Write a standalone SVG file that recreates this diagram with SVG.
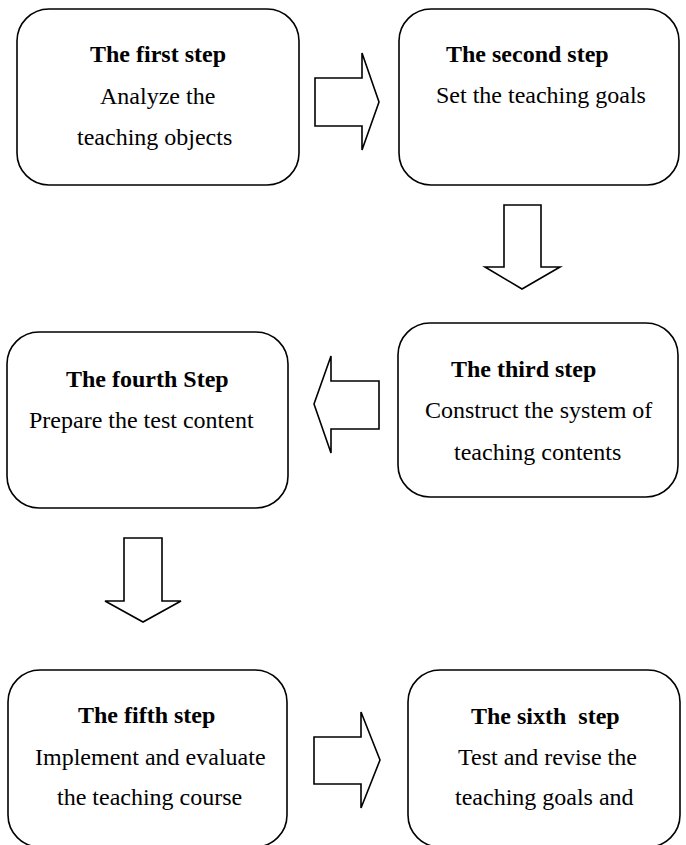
<svg xmlns="http://www.w3.org/2000/svg" width="686" height="845" viewBox="0 0 686 845">
<style>
.box{fill:#fff;stroke:#000;stroke-width:1.6}
.arr{fill:#fff;stroke:#000;stroke-width:1.6;stroke-linejoin:miter}
text{font-family:"Liberation Serif","Times New Roman",serif;font-size:24px;fill:#000;white-space:pre}
.t{font-weight:bold}
</style>
<rect width="686" height="845" fill="#fff"/>
<g id="connectors">
<polygon class="arr" points="315,78 362,78 362,53 379,102 362,150 362,126 315,126"/>
<polygon class="arr" points="504,205 541,205 541,267 560,267 522,289 485,267 504,267"/>
<polygon class="arr" points="379,381 331,381 331,356 314,404 331,453 331,429 379,429"/>
<polygon class="arr" points="124,538 162,538 162,601 181,601 143,622 105,601 124,601"/>
<polygon class="arr" points="314,737 361,737 361,712 380,760 361,808 361,784 314,784"/>
</g>
<g id="step1">
<rect class="box" x="17" y="9" width="282" height="176" rx="32"/>
<text class="t" x="90" y="62">The first step</text>
<text x="100" y="104">Analyze the</text>
<text x="77" y="145">teaching objects</text>
</g>
<g id="step2">
<rect class="box" x="399" y="9" width="280" height="176" rx="32"/>
<text class="t" x="446" y="62">The second step</text>
<text x="436" y="103">Set the teaching goals</text>
</g>
<g id="step3">
<rect class="box" x="398" y="323" width="280" height="174" rx="32"/>
<text class="t" x="451" y="377">The third step</text>
<text x="425" y="418">Construct the system of</text>
<text x="454" y="460">teaching contents</text>
</g>
<g id="step4">
<rect class="box" x="7" y="332" width="281" height="176" rx="32"/>
<text class="t" x="66" y="387">The fourth Step</text>
<text x="29" y="428">Prepare the test content</text>
</g>
<g id="step5">
<rect class="box" x="8" y="670" width="279" height="177" rx="32"/>
<text class="t" x="78" y="723">The fifth step</text>
<text x="35" y="765">Implement and evaluate</text>
<text x="57" y="805">the teaching course</text>
</g>
<g id="step6">
<rect class="box" x="408" y="670" width="272" height="177" rx="32"/>
<text class="t" x="471" y="724">The sixth  step</text>
<text x="458" y="765">Test and revise the</text>
<text x="455" y="805">teaching goals and</text>
</g>
</svg>
